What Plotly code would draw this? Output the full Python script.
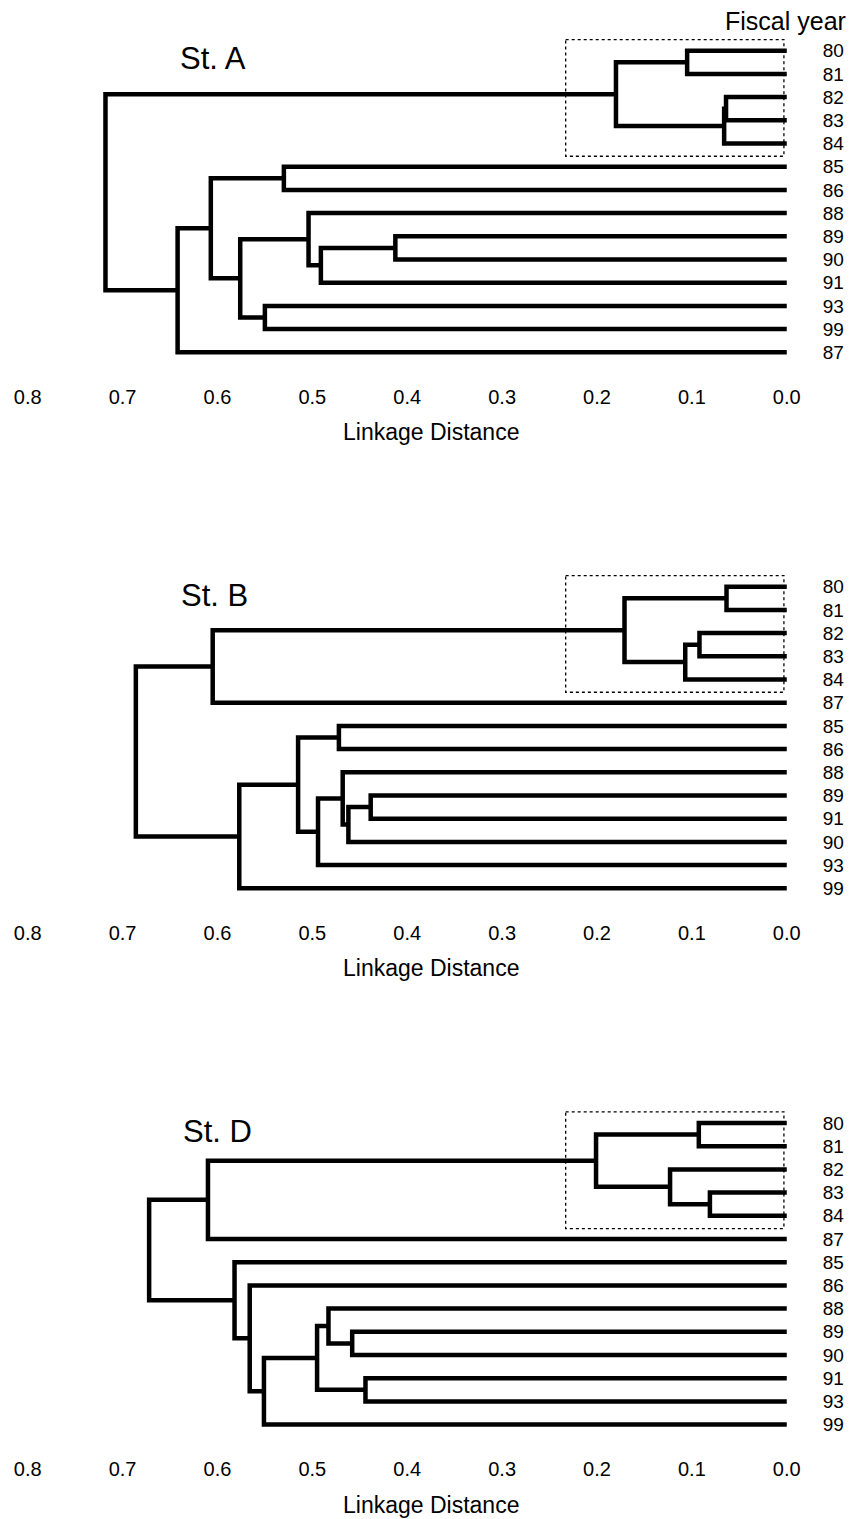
import plotly.graph_objects as go

# ---------------- data ----------------
# Panel St. A : leaf order (top to bottom) and merges (scipy-style ids: leaves 0..13, clusters 14..)
A_leaves = ["80", "81", "82", "83", "84", "85", "86", "88", "89", "90", "91", "93", "99", "87"]
A_left = [0, 2, 15, 14, 5, 8, 19, 7, 11, 21, 18, 24, 17]
A_right = [1, 3, 4, 16, 6, 9, 10, 20, 12, 22, 23, 13, 25]
A_height = [0.105, 0.064, 0.066, 0.180, 0.530, 0.4125, 0.491, 0.504, 0.550, 0.576, 0.607, 0.642, 0.718]

# Panel St. B
B_leaves = ["80", "81", "82", "83", "84", "87", "85", "86", "88", "89", "91", "90", "93", "99"]
B_left = [0, 2, 15, 14, 17, 6, 9, 20, 8, 22, 19, 24, 18]
B_right = [1, 3, 4, 16, 5, 7, 10, 11, 21, 12, 23, 13, 25]
B_height = [0.0635, 0.092, 0.107, 0.171, 0.605, 0.472, 0.4385, 0.462, 0.468, 0.494, 0.515, 0.577, 0.686]

# Panel St. D
D_leaves = ["80", "81", "82", "83", "84", "87", "85", "86", "88", "89", "90", "91", "93", "99"]
D_left = [0, 3, 2, 14, 17, 9, 8, 11, 20, 22, 7, 6, 18]
D_right = [1, 4, 15, 16, 5, 10, 19, 12, 21, 13, 23, 24, 25]
D_height = [0.0927, 0.081, 0.123, 0.201, 0.610, 0.458, 0.483, 0.444, 0.495, 0.551, 0.566, 0.582, 0.672]

panel_titles = ["St. A", "St. B", "St. D"]
x_ticks = [0.8, 0.7, 0.6, 0.5, 0.4, 0.3, 0.2, 0.1, 0.0]
x_title = "Linkage Distance"
leaf_header = "Fiscal year"
box_x = [0.233, 0.003]       # dotted box extent (distance)
box_leaf = [-0.48, 4.55]     # dotted box extent (leaf positions)

# ---------------- layout constants (pixels) ----------------
W, H = 862, 1519
X0_PX, PX_PER_UNIT = 796.0, 960.0      # pixel of distance 0, pixels per unit distance
PLOT_RIGHT = 800.0
LEAF_STEP = 23.2
panels = [
    dict(leaves=A_leaves, left=A_left, right=A_right, h=A_height,
         y0=50.7, top=0, bottom=381, title_xy=(180, 59), xt_y=432),
    dict(leaves=B_leaves, left=B_left, right=B_right, h=B_height,
         y0=586.7, top=450, bottom=917, title_xy=(181, 595), xt_y=968),
    dict(leaves=D_leaves, left=D_left, right=D_right, h=D_height,
         y0=1123.0, top=985, bottom=1453, title_xy=(183, 1131.5), xt_y=1505),
]

FONT = "Liberation Sans, Arial, Helvetica, sans-serif"
x_range = [X0_PX / PX_PER_UNIT, (X0_PX - PLOT_RIGHT) / PX_PER_UNIT]

fig = go.Figure()
annotations = []
shapes = []

for k, p in enumerate(panels):
    n = len(p["leaves"])
    pos = {i: float(i) for i in range(n)}
    hgt = {i: 0.0 for i in range(n)}
    xs, ys = [], []
    for j, (a, b, h) in enumerate(zip(p["left"], p["right"], p["h"])):
        cid = n + j
        xs += [hgt[a], h, h, hgt[b], None]
        ys += [pos[a], pos[a], pos[b], pos[b], None]
        pos[cid] = (pos[a] + pos[b]) / 2.0
        hgt[cid] = h
    sfx = "" if k == 0 else str(k + 1)
    fig.add_trace(go.Scatter(x=xs, y=ys, mode="lines",
                             line=dict(color="black", width=4.5),
                             xaxis="x" + sfx, yaxis="y" + sfx,
                             hoverinfo="skip", showlegend=False))

    # axes
    top, bottom, y0 = p["top"], p["bottom"], p["y0"]
    v_top = (top - y0) / LEAF_STEP
    v_bot = (bottom - y0) / LEAF_STEP
    fig.layout["xaxis" + sfx] = dict(
        domain=[0, PLOT_RIGHT / W], range=x_range, anchor="y" + sfx,
        showgrid=False, zeroline=False, showline=False, ticks="",
        tickvals=x_ticks, tickformat=".1f",
        tickfont=dict(family=FONT, size=20, color="black"),
        ticklabelstandoff=2, fixedrange=True)
    fig.layout["yaxis" + sfx] = dict(
        domain=[1 - bottom / H, 1 - top / H], range=[v_bot, v_top],
        anchor="x" + sfx, side="right",
        showgrid=False, zeroline=False, showline=False, ticks="",
        tickvals=list(range(n)), ticktext=p["leaves"],
        tickfont=dict(family=FONT, size=19, color="black"),
        ticklabelstandoff=31, fixedrange=True)

    # dotted box
    shapes.append(dict(type="rect", xref="x" + sfx, yref="y" + sfx,
                       x0=box_x[0], x1=box_x[1], y0=box_leaf[0], y1=box_leaf[1],
                       line=dict(color="black", width=1.3, dash="dot"),
                       fillcolor="rgba(0,0,0,0)", layer="below"))

    tx, ty = p["title_xy"]
    annotations.append(dict(text=panel_titles[k], xref="paper", yref="paper",
                            x=tx / W, y=1 - ty / H, xanchor="left", yanchor="middle",
                            showarrow=False, font=dict(family=FONT, size=31, color="black")))
    annotations.append(dict(text=x_title, xref="paper", yref="paper",
                            x=436 / W, y=1 - p["xt_y"] / H, xanchor="center", yanchor="middle",
                            showarrow=False, font=dict(family=FONT, size=23, color="black")))

annotations.append(dict(text=leaf_header, xref="paper", yref="paper",
                        x=858 / W, y=1 - 21 / H, xanchor="right", yanchor="middle",
                        showarrow=False, font=dict(family=FONT, size=25, color="black")))

fig.update_layout(width=W, height=H, margin=dict(l=0, r=0, t=0, b=0),
                  paper_bgcolor="white", plot_bgcolor="white",
                  annotations=annotations, shapes=shapes, showlegend=False)

fig.write_html("out.html")
